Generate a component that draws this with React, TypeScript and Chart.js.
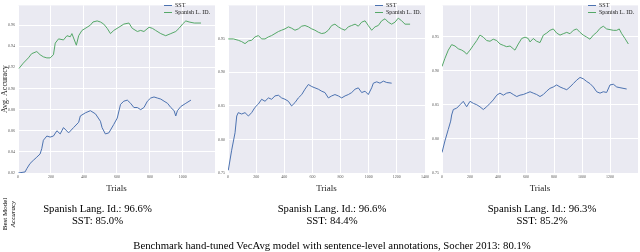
import React, { useEffect, useRef } from "react";
import { Chart, registerables } from "chart.js";
Chart.register(...registerables);

// ---------- tick labels ----------
const xTicksP1 = [0, 200, 400, 600, 800, 1000];
const xTicksP2 = [0, 200, 400, 600, 800, 1000, 1200, 1400];
const xTicksP3 = [0, 200, 400, 600, 800, 1000, 1200];
const yTicksP1 = [0.82, 0.84, 0.86, 0.88, 0.9, 0.92, 0.94, 0.96];
const yTicksP23 = [0.75, 0.8, 0.85, 0.9, 0.95];

const seriesNames = ["SST", "Spanish L. ID."];

// ---------- panel 1 ----------
const p1SstTrials = [2, 43, 53, 73, 93, 114, 134, 144, 154, 175, 195, 215, 236, 256, 276, 307, 337, 368, 378, 409, 439, 470, 500, 510, 530, 551, 581, 602, 622, 642, 663, 683, 703, 724, 744, 764, 785, 805, 825, 845, 866, 886, 907, 927, 947, 957, 967, 988, 1018, 1049];
const p1SstAcc = [0.820, 0.821, 0.824, 0.829, 0.832, 0.835, 0.838, 0.843, 0.851, 0.855, 0.854, 0.855, 0.860, 0.857, 0.863, 0.858, 0.863, 0.868, 0.874, 0.877, 0.879, 0.876, 0.869, 0.863, 0.857, 0.858, 0.866, 0.872, 0.885, 0.888, 0.889, 0.886, 0.882, 0.882, 0.880, 0.882, 0.888, 0.891, 0.892, 0.891, 0.890, 0.888, 0.886, 0.882, 0.879, 0.874, 0.879, 0.883, 0.886, 0.889];
const p1EsTrials = [6, 32, 63, 83, 114, 134, 154, 175, 195, 215, 226, 246, 276, 297, 317, 327, 354, 368, 388, 419, 439, 455, 480, 500, 520, 541, 561, 581, 612, 642, 673, 693, 724, 744, 764, 795, 815, 835, 866, 896, 927, 957, 977, 998, 1018, 1038, 1069, 1110];
const p1EsAcc = [0.919, 0.924, 0.929, 0.933, 0.935, 0.932, 0.930, 0.929, 0.929, 0.932, 0.943, 0.947, 0.946, 0.950, 0.949, 0.952, 0.941, 0.950, 0.955, 0.958, 0.960, 0.963, 0.964, 0.963, 0.961, 0.957, 0.952, 0.955, 0.958, 0.961, 0.962, 0.957, 0.954, 0.955, 0.954, 0.958, 0.957, 0.955, 0.952, 0.950, 0.952, 0.954, 0.957, 0.961, 0.964, 0.963, 0.962, 0.962];

// ---------- panel 2 ----------
const p2SstTrials = [2, 26, 50, 62, 73, 97, 121, 145, 168, 192, 216, 239, 263, 287, 310, 334, 358, 381, 405, 429, 452, 476, 500, 524, 547, 571, 595, 618, 642, 666, 689, 713, 737, 760, 784, 808, 832, 855, 879, 903, 926, 950, 974, 997, 1021, 1033, 1057, 1080, 1104, 1128, 1163];
const p2SstAcc = [0.754, 0.784, 0.810, 0.835, 0.840, 0.838, 0.840, 0.835, 0.840, 0.848, 0.853, 0.860, 0.857, 0.862, 0.860, 0.865, 0.866, 0.862, 0.860, 0.857, 0.850, 0.855, 0.862, 0.867, 0.875, 0.882, 0.879, 0.877, 0.875, 0.872, 0.870, 0.862, 0.865, 0.867, 0.865, 0.862, 0.865, 0.867, 0.870, 0.875, 0.877, 0.870, 0.872, 0.867, 0.877, 0.884, 0.886, 0.884, 0.887, 0.885, 0.884];
const p2EsTrials = [2, 38, 73, 97, 121, 145, 168, 192, 216, 239, 263, 287, 310, 334, 358, 381, 405, 429, 452, 476, 500, 524, 547, 571, 595, 618, 642, 666, 689, 713, 737, 760, 784, 808, 832, 855, 879, 903, 926, 950, 974, 997, 1021, 1045, 1068, 1092, 1116, 1139, 1163, 1187, 1210, 1234, 1258, 1294];
const p2EsAcc = [0.950, 0.950, 0.948, 0.946, 0.943, 0.947, 0.948, 0.953, 0.955, 0.950, 0.950, 0.953, 0.955, 0.958, 0.961, 0.963, 0.965, 0.968, 0.966, 0.963, 0.965, 0.969, 0.970, 0.968, 0.965, 0.963, 0.960, 0.958, 0.959, 0.963, 0.970, 0.972, 0.968, 0.965, 0.963, 0.968, 0.970, 0.972, 0.969, 0.975, 0.977, 0.970, 0.963, 0.968, 0.970, 0.977, 0.980, 0.975, 0.972, 0.975, 0.981, 0.977, 0.972, 0.972];

// ---------- panel 3 ----------
const p3SstTrials = [0, 21, 45, 62, 69, 81, 105, 129, 152, 176, 200, 224, 248, 271, 295, 319, 343, 366, 391, 414, 438, 462, 486, 509, 534, 557, 581, 605, 629, 652, 676, 700, 724, 748, 771, 795, 819, 843, 866, 891, 914, 938, 962, 986, 1009, 1034, 1057, 1081, 1105, 1129, 1152, 1176, 1200, 1224, 1248, 1271, 1319];
const p3SstAcc = [0.780, 0.797, 0.814, 0.826, 0.835, 0.843, 0.845, 0.850, 0.855, 0.847, 0.855, 0.852, 0.850, 0.847, 0.843, 0.847, 0.852, 0.857, 0.864, 0.867, 0.864, 0.867, 0.868, 0.865, 0.862, 0.864, 0.865, 0.867, 0.869, 0.867, 0.865, 0.862, 0.865, 0.870, 0.874, 0.876, 0.879, 0.876, 0.874, 0.872, 0.876, 0.881, 0.886, 0.890, 0.888, 0.884, 0.881, 0.876, 0.869, 0.867, 0.869, 0.868, 0.879, 0.880, 0.876, 0.875, 0.873];
const p3EsTrials = [0, 21, 45, 69, 93, 116, 141, 164, 176, 200, 224, 248, 271, 295, 319, 343, 366, 391, 414, 438, 462, 486, 509, 521, 545, 569, 593, 616, 629, 652, 676, 700, 724, 748, 771, 795, 819, 843, 866, 891, 914, 938, 962, 986, 1009, 1034, 1057, 1081, 1105, 1129, 1152, 1176, 1200, 1224, 1248, 1266, 1284, 1307, 1331];
const p3EsAcc = [0.906, 0.918, 0.930, 0.938, 0.936, 0.932, 0.930, 0.927, 0.924, 0.930, 0.937, 0.944, 0.952, 0.949, 0.944, 0.943, 0.946, 0.944, 0.939, 0.937, 0.935, 0.936, 0.932, 0.930, 0.939, 0.947, 0.949, 0.947, 0.942, 0.947, 0.943, 0.941, 0.952, 0.955, 0.959, 0.961, 0.955, 0.952, 0.954, 0.956, 0.954, 0.959, 0.961, 0.956, 0.952, 0.949, 0.946, 0.952, 0.956, 0.962, 0.965, 0.961, 0.960, 0.959, 0.959, 0.961, 0.954, 0.947, 0.939];

const bestSpanish = ["96.6%", "96.6%", "96.3%"];
const bestSst = ["85.0%", "84.4%", "85.2%"];
const captionText = "Benchmark hand-tuned VecAvg model with sentence-level annotations, Socher 2013: 80.1%";

const BLUE = "#4C72B0";
const GREEN = "#55A868";
const BG = "#EAEAF2";
const SERIF = "'Liberation Serif', 'DejaVu Serif', serif";

const bgPlugin = {
  id: "panelBg",
  beforeDraw(chart: any) {
    const { ctx, chartArea } = chart;
    if (!chartArea) return;
    ctx.save();
    ctx.fillStyle = BG;
    ctx.fillRect(chartArea.left, chartArea.top, chartArea.right - chartArea.left, chartArea.bottom - chartArea.top);
    ctx.restore();
  },
};

type PanelProps = {
  left: number;
  width: number;
  padRight: number;
  yAxisWidth: number;
  xMax: number;
  yMin: number;
  yMax: number;
  xTicks: number[];
  yTicks: number[];
  sstTrials: number[];
  sstAcc: number[];
  esTrials: number[];
  esAcc: number[];
  yTitle?: string;
};

const CANVAS_H = 200;
const X_AXIS_H = 27;

function Panel(p: PanelProps) {
  const ref = useRef<HTMLCanvasElement | null>(null);
  useEffect(() => {
    if (!ref.current) return;
    const toPts = (xs: number[], ys: number[]) => xs.map((x, i) => ({ x, y: ys[i] }));
    const chart = new Chart(ref.current, {
      type: "line",
      data: {
        datasets: [
          {
            label: seriesNames[0],
            data: toPts(p.sstTrials, p.sstAcc),
            borderColor: BLUE,
            borderWidth: 1,
            pointRadius: 0,
            tension: 0,
          },
          {
            label: seriesNames[1],
            data: toPts(p.esTrials, p.esAcc),
            borderColor: GREEN,
            borderWidth: 1,
            pointRadius: 0,
            tension: 0,
          },
        ],
      },
      options: {
        responsive: false,
        animation: false,
        devicePixelRatio: 1,
        layout: { autoPadding: false, padding: { top: 3, right: p.padRight, left: 0, bottom: 0 } },
        plugins: { legend: { display: false }, tooltip: { enabled: false } },
        scales: {
          x: {
            type: "linear",
            min: 0,
            max: p.xMax,
            afterFit: (s: any) => { s.height = X_AXIS_H; },
            afterBuildTicks: (s: any) => { s.ticks = p.xTicks.map((v) => ({ value: v })); },
            ticks: {
              font: { size: 4, family: SERIF },
              color: "#555",
              padding: 2,
              maxRotation: 0,
              autoSkip: false,
              callback: (v: any) => String(v),
            },
            grid: { color: "#ffffff", lineWidth: 1, drawTicks: false },
            border: { display: false },
            title: { display: true, text: "Trials", font: { size: 9, family: SERIF }, color: "#222", padding: { top: 0, bottom: 6 } },
          },
          y: {
            type: "linear",
            min: p.yMin,
            max: p.yMax,
            afterFit: (s: any) => { s.width = p.yAxisWidth; },
            afterBuildTicks: (s: any) => { s.ticks = p.yTicks.map((v) => ({ value: v })); },
            ticks: {
              font: { size: 4, family: SERIF },
              color: "#555",
              padding: 3,
              autoSkip: false,
              callback: (v: any) => Number(v).toFixed(2),
            },
            grid: { color: "#ffffff", lineWidth: 1, drawTicks: false },
            border: { display: false },
            title: {
              display: !!p.yTitle,
              text: p.yTitle || "",
              font: { size: 8, family: SERIF },
              color: "#222",
              padding: { top: 0, bottom: 0 },
            },
          },
        },
      },
      plugins: [bgPlugin],
    } as any);
    return () => chart.destroy();
  }, []);
  return (
    <canvas
      ref={ref}
      width={p.width}
      height={CANVAS_H}
      style={{ position: "absolute", left: p.left, top: 0, width: p.width, height: CANVAS_H }}
    />
  );
}

function Legend({ left }: { left: number }) {
  const row = (color: string, text: string, top: number) => (
    <div style={{ position: "absolute", left, top, height: 6, display: "flex", alignItems: "center", whiteSpace: "nowrap" }}>
      <span style={{ display: "inline-block", width: 8, height: 1, background: color, marginRight: 3 }} />
      <span style={{ fontSize: 6, lineHeight: "6px", fontFamily: SERIF, color: "#222" }}>{text}</span>
    </div>
  );
  return (
    <>
      {row(BLUE, seriesNames[0], 2)}
      {row(GREEN, seriesNames[1], 9)}
    </>
  );
}

function Stats({ cx, i }: { cx: number; i: number }) {
  return (
    <div
      style={{
        position: "absolute",
        left: cx,
        top: 202,
        transform: "translateX(-50%)",
        textAlign: "center",
        whiteSpace: "nowrap",
        fontFamily: SERIF,
        fontSize: 10.7,
        lineHeight: "12px",
        color: "#000",
      }}
    >
      <div>Spanish Lang. Id.: {bestSpanish[i]}</div>
      <div>SST: {bestSst[i]}</div>
    </div>
  );
}

export default function App() {
  return (
    <div style={{ position: "fixed", left: 0, top: 0, width: 640, height: 252, background: "#fff", overflow: "hidden", fontFamily: SERIF }}>
      <Panel left={0} width={225} padRight={10} yAxisWidth={18} xMax={1195} yMin={0.82} yMax={0.9787}
        xTicks={xTicksP1} yTicks={yTicksP1} sstTrials={p1SstTrials} sstAcc={p1SstAcc} esTrials={p1EsTrials} esAcc={p1EsAcc}
        yTitle="Avg. Accuracy" />
      <Panel left={218} width={217} padRight={10} yAxisWidth={10} xMax={1400} yMin={0.75} yMax={1.0}
        xTicks={xTicksP2} yTicks={yTicksP23} sstTrials={p2SstTrials} sstAcc={p2SstAcc} esTrials={p2EsTrials} esAcc={p2EsAcc} />
      <Panel left={431} width={209} padRight={2} yAxisWidth={11} xMax={1400} yMin={0.75} yMax={0.9955}
        xTicks={xTicksP3} yTicks={yTicksP23} sstTrials={p3SstTrials} sstAcc={p3SstAcc} esTrials={p3EsTrials} esAcc={p3EsAcc} />
      <Legend left={164} />
      <Legend left={375} />
      <Legend left={588} />
      <div style={{ position: "absolute", left: 5, top: 214, transform: "translate(-50%, -50%) rotate(-90deg)", whiteSpace: "nowrap", fontSize: 7, lineHeight: "7px", fontFamily: SERIF }}>
        Best Model
      </div>
      <div style={{ position: "absolute", left: 13, top: 214, transform: "translate(-50%, -50%) rotate(-90deg)", whiteSpace: "nowrap", fontSize: 7, lineHeight: "7px", fontFamily: SERIF, fontStyle: "italic" }}>
        Accuracy
      </div>
      <Stats cx={97.5} i={0} />
      <Stats cx={332} i={1} />
      <Stats cx={542} i={2} />
      <div style={{ position: "absolute", left: 332, top: 239, transform: "translateX(-50%)", whiteSpace: "nowrap", fontSize: 10.75, lineHeight: "12px", fontFamily: SERIF, color: "#000" }}>
        {captionText}
      </div>
    </div>
  );
}
